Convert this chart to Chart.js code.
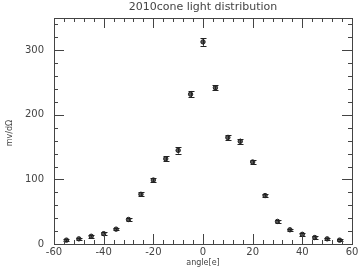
<!doctype html>
<html lang="en">
  <head>
    <meta charset="UTF-8" />
    <title>2010cone light distribution</title>
    <script src="https://cdn.jsdelivr.net/npm/chart.js"></script>
    <style>
      body {
        margin: 0;
        background: #ffffff;
      }
      .chart-box {
        width: 359px;
        height: 270px;
      }
    </style>
  </head>
  <body>
    <div class="chart-box">
      <canvas id="coneChart"></canvas>
    </div>

    <script>
      const angles = [-55, -50, -45, -40, -35, -30, -25, -20, -15, -10, -5, 0, 5, 10, 15, 20, 25, 30, 35, 40, 45, 50, 55];
      const values = [6, 8, 12, 16, 23, 38, 77, 99, 132, 145, 232, 313, 242, 165, 159, 127, 75, 35, 22, 15, 10, 8, 6];
      const errors = [2, 2, 2, 2, 2, 2, 3, 3, 4, 5, 5, 6, 4, 4, 4, 3, 2, 2, 2, 2, 2, 2, 2];

      const xTickLabels = [-60, -40, -20, 0, 20, 40, 60];
      const yTickLabels = [0, 100, 200, 300];

      const ink = "#444";
      const fontName = "DejaVu Sans";

      // frame, inward ticks, error bars and texts
      const framePlugin = {
        id: "frame",
        afterDatasetsDraw(chart) {
          const { ctx, chartArea: a, scales } = chart;
          const xs = scales.x, ys = scales.y;
          ctx.save();
          ctx.lineWidth = 1;

          // error bars
          ctx.strokeStyle = "#222";
          for (let i = 0; i < angles.length; i++) {
            const px = Math.round(xs.getPixelForValue(angles[i])) + 0.5;
            const top = ys.getPixelForValue(values[i] + errors[i]);
            const bot = ys.getPixelForValue(values[i] - errors[i]);
            ctx.beginPath();
            ctx.moveTo(px, top);
            ctx.lineTo(px, bot);
            ctx.moveTo(px - 3, Math.round(top) + 0.5);
            ctx.lineTo(px + 3, Math.round(top) + 0.5);
            ctx.moveTo(px - 3, Math.round(bot) + 0.5);
            ctx.lineTo(px + 3, Math.round(bot) + 0.5);
            ctx.stroke();
          }

          ctx.strokeStyle = ink;
          ctx.strokeRect(a.left + 0.5, a.top + 0.5, a.right - a.left, a.bottom - a.top);

          ctx.beginPath();
          for (let v = -60; v <= 60; v += 4) {
            const px = Math.round(xs.getPixelForValue(v)) + 0.5;
            const len = v % 20 === 0 ? 10 : 4;
            ctx.moveTo(px, a.bottom);
            ctx.lineTo(px, a.bottom - len);
            ctx.moveTo(px, a.top);
            ctx.lineTo(px, a.top + len);
          }
          for (let v = 0; v <= 350; v += 20) {
            const py = Math.round(ys.getPixelForValue(v)) + 0.5;
            const len = v % 100 === 0 ? 10 : 4;
            ctx.moveTo(a.left, py);
            ctx.lineTo(a.left + len, py);
            ctx.moveTo(a.right, py);
            ctx.lineTo(a.right - len, py);
          }
          ctx.stroke();

          ctx.fillStyle = ink;
          ctx.font = "11px " + fontName;
          ctx.textAlign = "center";
          ctx.textBaseline = "middle";
          ctx.fillText("2010cone light distribution", (a.left + a.right) / 2, 7);

          ctx.font = "8px " + fontName;
          ctx.fillText("angle[e]", (a.left + a.right) / 2, 263);
          ctx.save();
          ctx.translate(10, 133);
          ctx.rotate(-Math.PI / 2);
          ctx.fillText("mv/dΩ", 0, 0);
          ctx.restore();
          ctx.restore();
        }
      };

      const ctx = document.getElementById("coneChart").getContext("2d");
      const coneChart = new Chart(ctx, {
        type: "scatter",
        data: {
          datasets: [
            {
              label: "light",
              data: angles.map((a, i) => ({ x: a, y: values[i] })),
              pointStyle: "circle",
              pointRadius: 2.2,
              backgroundColor: "#555",
              borderColor: "#222",
              borderWidth: 1
            }
          ]
        },
        options: {
          responsive: true,
          maintainAspectRatio: false,
          animation: false,
          layout: { padding: { top: 18, right: 7, left: 0, bottom: 0 } },
          plugins: {
            legend: { display: false },
            tooltip: { enabled: false }
          },
          scales: {
            x: {
              type: "linear",
              min: -60,
              max: 60,
              grid: { display: false },
              border: { display: false },
              afterFit: (s) => { s.height = 26; },
              afterBuildTicks: (s) => { s.ticks = xTickLabels.map((v) => ({ value: v })); },
              ticks: {
                color: ink,
                padding: -6,
                maxRotation: 0,
                font: { family: fontName, size: 10 }
              }
            },
            y: {
              min: 0,
              max: 350,
              grid: { display: false },
              border: { display: false },
              afterFit: (s) => { s.width = 54; },
              afterBuildTicks: (s) => { s.ticks = yTickLabels.map((v) => ({ value: v })); },
              ticks: {
                color: ink,
                padding: 2,
                font: { family: fontName, size: 10 }
              }
            }
          }
        },
        plugins: [framePlugin]
      });
    </script>
  </body>
</html>
